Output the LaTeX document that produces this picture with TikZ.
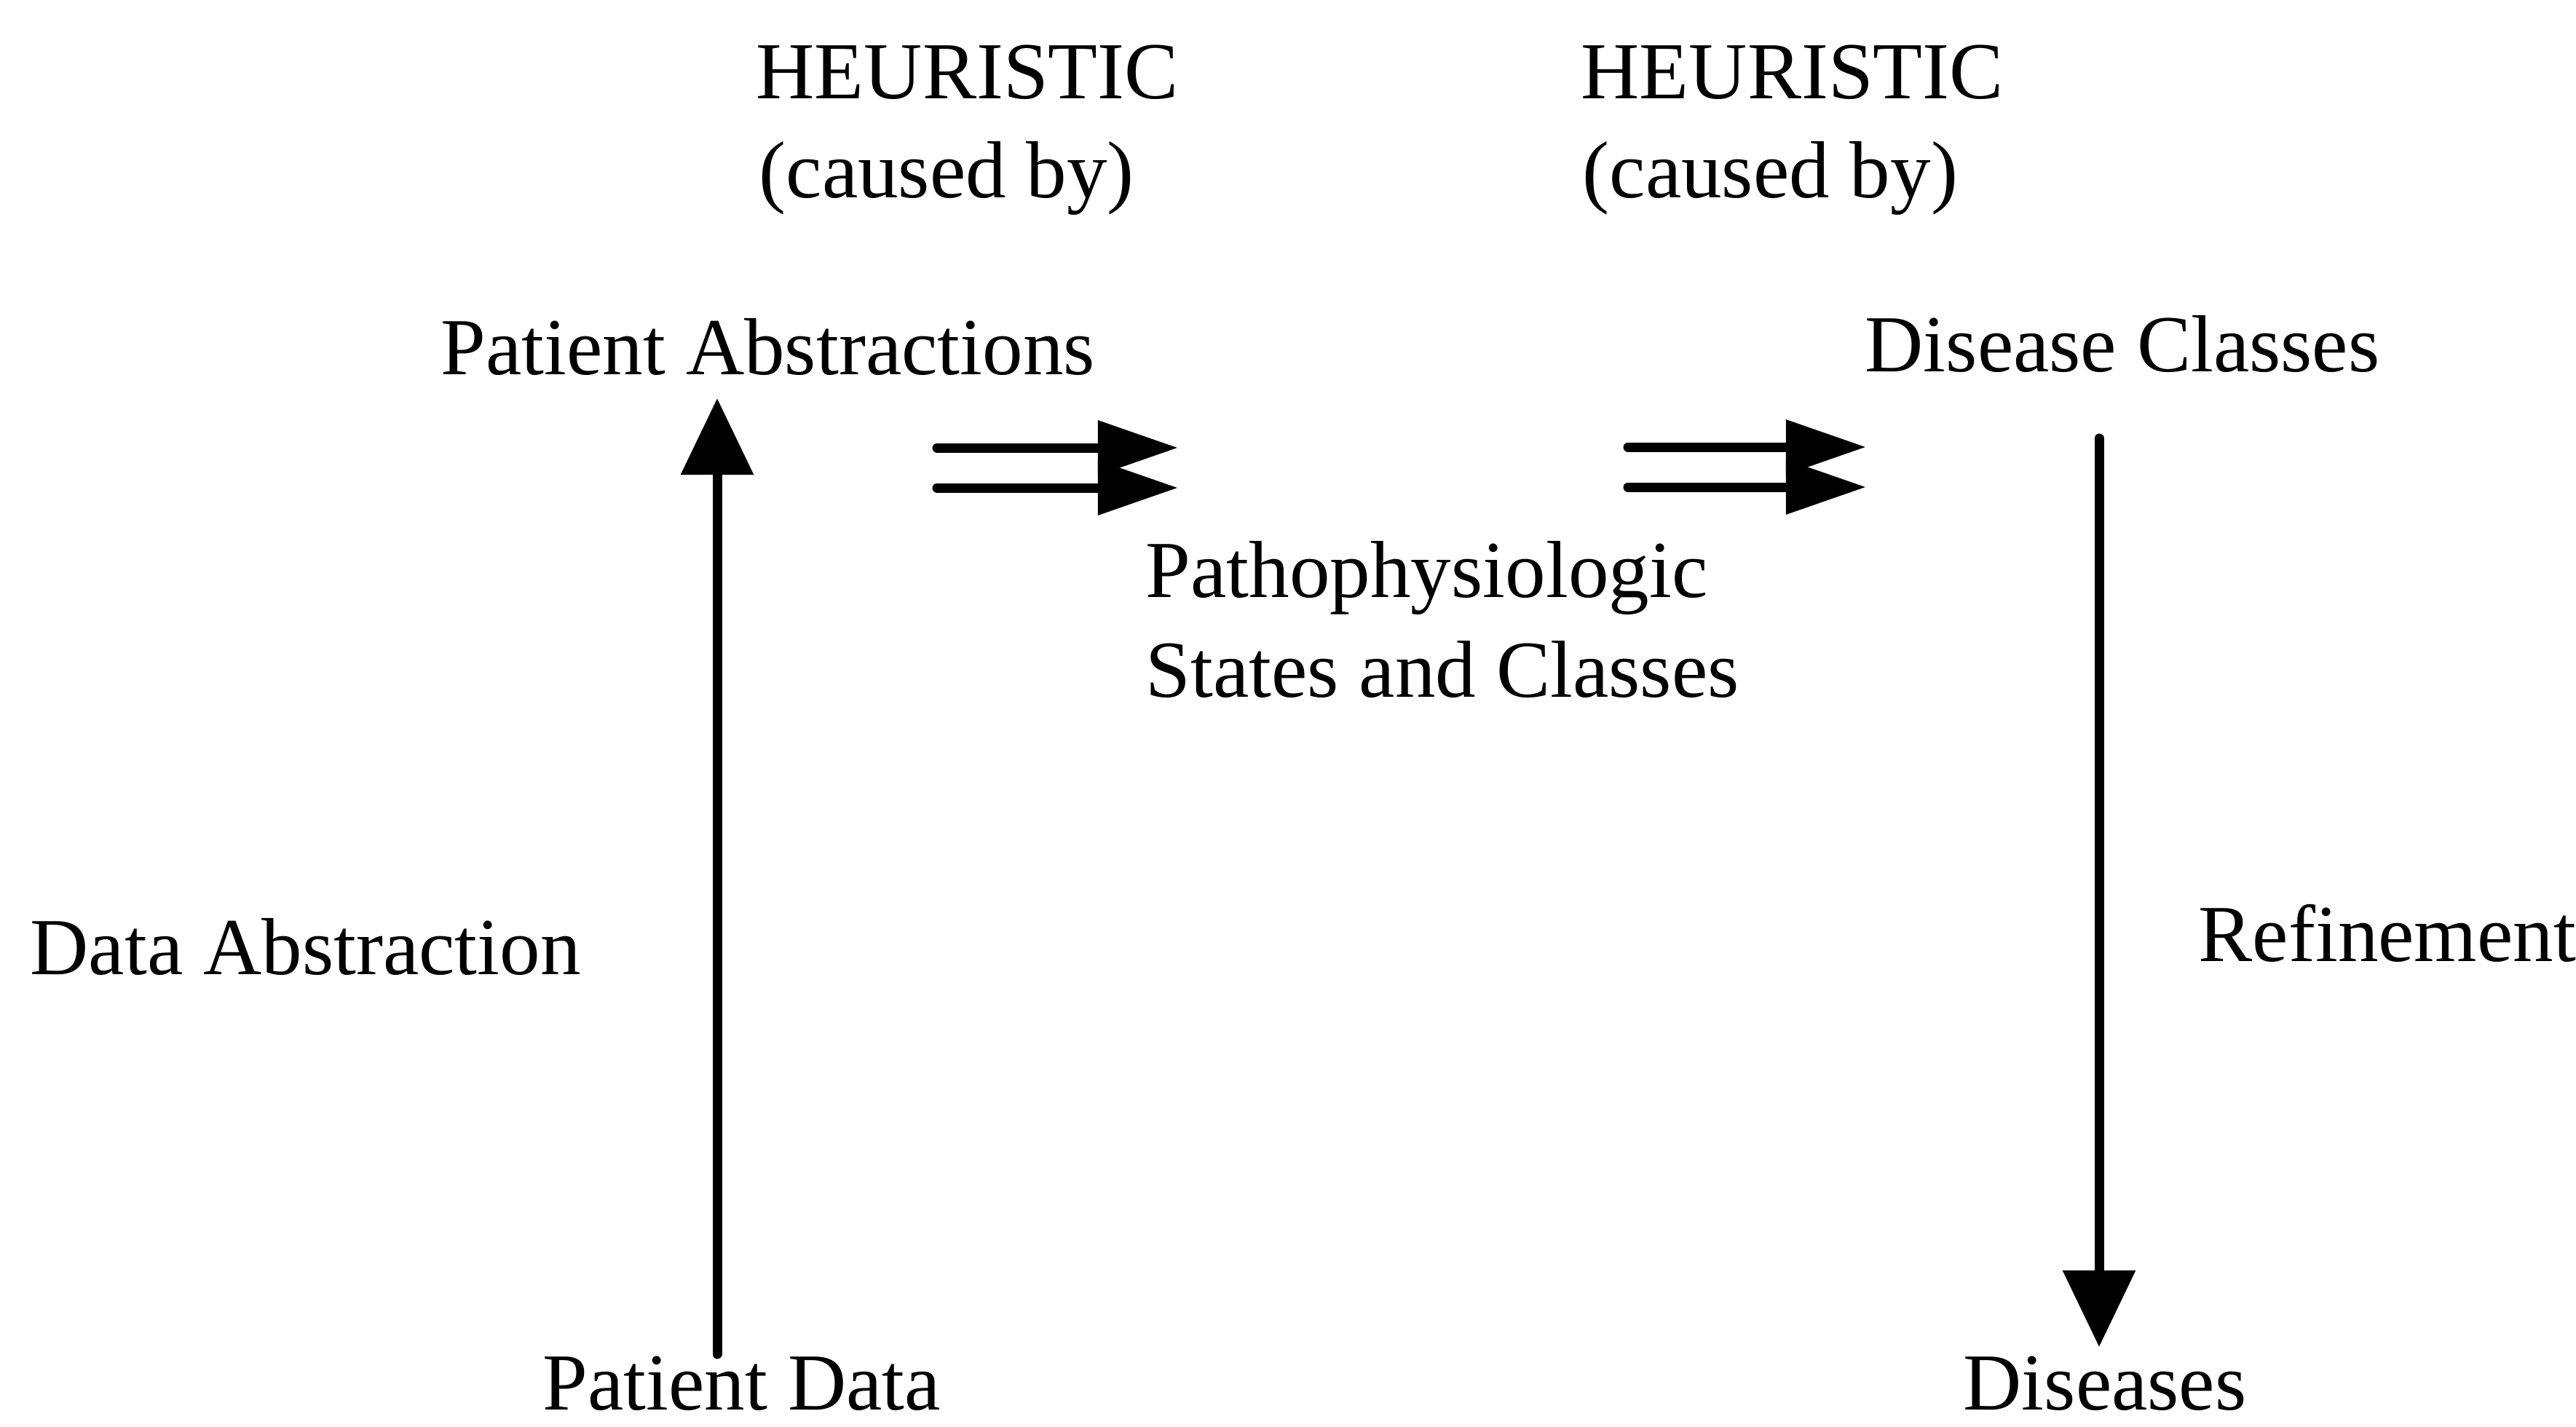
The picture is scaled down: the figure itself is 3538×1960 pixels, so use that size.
\documentclass[tikz,border=0pt]{standalone}
\usepackage{fontspec}
\setmainfont{Liberation Serif}
\usetikzlibrary{arrows.meta}
\begin{document}
\begin{tikzpicture}[x=0.01cm, y=-0.01cm,
  lbl/.style={anchor=base west, inner sep=0pt,
              font=\fontsize{31.6}{39}\selectfont},
  stem/.style={line width=0.13cm, line cap=round},
  vtip/.style={stem, -{Triangle[length=1.05cm, width=0.97cm]}},
  htip/.style={stem, -{Triangle[length=1.1cm, width=0.72cm]}}]
\useasboundingbox (0,0) rectangle (3538,1960);

% labels
\node[lbl] (heur1)  at (1038,135) {HEURISTIC};
\node[lbl] (cause1) at (1042,271) {(caused by)};
\node[lbl] (heur2)  at (2171,135) {HEURISTIC};
\node[lbl] (cause2) at (2173,271) {(caused by)};
\node[lbl] (pabs)   at (605,514)  {Patient Abstractions};
\node[lbl] (dcls)   at (2561,510) {Disease Classes};
\node[lbl] (patho)  at (1573,820) {Pathophysiologic};
\node[lbl] (states) at (1573,957) {States and Classes};
\node[lbl] (dabs)   at (41,1338)  {Data Abstraction};
\node[lbl] (refine) at (3019,1320) {Refinement};
\node[lbl] (pdata)  at (745,1936) {Patient Data};
\node[lbl] (dis)    at (2696,1936) {Diseases};

% connector end points
\coordinate (upS) at (985,1860);
\coordinate (upE) at (985,547);
\coordinate (dnS) at (2883,602);
\coordinate (dnE) at (2883,1850);
\coordinate (aTs) at (1287,615);
\coordinate (aTe) at (1618,615);
\coordinate (aBs) at (1287,670);
\coordinate (aBe) at (1618,670);
\coordinate (bTs) at (2236,614);
\coordinate (bTe) at (2563,614);
\coordinate (bBs) at (2236,669);
\coordinate (bBe) at (2563,669);

% data abstraction and refinement
\draw[vtip] (upS) -- (upE);
\draw[vtip] (dnS) -- (dnE);

% heuristic (caused by) double arrows
\draw[htip] (aTs) -- (aTe);
\draw[htip] (aBs) -- (aBe);
\draw[htip] (bTs) -- (bTe);
\draw[htip] (bBs) -- (bBe);
\end{tikzpicture}
\end{document}
